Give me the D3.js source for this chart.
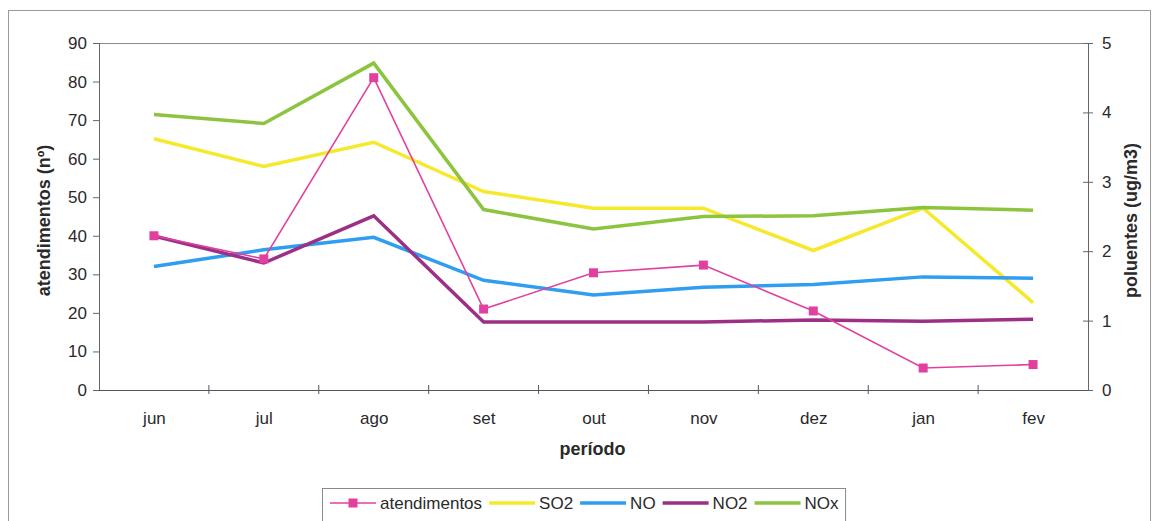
<!DOCTYPE html>
<html>
<head>
<meta charset="utf-8">
<script src="https://cdn.jsdelivr.net/npm/d3@7"></script>
<style>
  html, body { margin: 0; padding: 0; background: #fff; }
  svg { display: block; }
  text { font-family: "Liberation Sans", Arial, sans-serif; fill: #2a2a2a; }
</style>
</head>
<body>
<svg id="chart" width="1152" height="521"></svg>
<script>
// Monthly series: hospital visits (left axis) and pollutant levels (right axis)
const months = ["jun", "jul", "ago", "set", "out", "nov", "dez", "jan", "fev"];
const atendimentos = [40, 34, 81, 21, 30.4, 32.4, 20.5, 5.7, 6.6];
const so2 = [3.62, 3.22, 3.57, 2.86, 2.62, 2.62, 2.01, 2.62, 1.26];
const no = [1.78, 2.02, 2.20, 1.58, 1.37, 1.48, 1.52, 1.63, 1.61];
const no2 = [2.22, 1.83, 2.51, 0.98, 0.98, 0.98, 1.01, 0.99, 1.02];
const nox = [3.97, 3.84, 4.71, 2.60, 2.32, 2.50, 2.51, 2.63, 2.59];
const leftTicks = [0, 10, 20, 30, 40, 50, 60, 70, 80, 90];
const rightTicks = [0, 1, 2, 3, 4, 5];

const colors = {
  atendimentos: "#e2409e",
  SO2: "#f6e92c",
  NO: "#2f9ef0",
  NO2: "#9c2f86",
  NOx: "#8cc43f"
};

const svg = d3.select("#chart");
const plot = { left: 99, right: 1088, top: 43, bottom: 390 };

const x = d3.scalePoint().domain(months).range([plot.left, plot.right]).padding(0.5);
const step = x.step();
const yL = d3.scaleLinear().domain([0, 90]).range([plot.bottom, plot.top]);
const yR = d3.scaleLinear().domain([0, 5]).range([plot.bottom, plot.top]);

const fontFamily = '"Liberation Sans", Arial, sans-serif';

// outer chart frame
svg.append("rect")
  .attr("x", 8.5).attr("y", 10.5).attr("width", 1142).attr("height", 540)
  .attr("fill", "none").attr("stroke", "#9a9a9a").attr("stroke-width", 1);

// plot area top edge
svg.append("line")
  .attr("x1", plot.left).attr("x2", plot.right)
  .attr("y1", plot.top + 0.5).attr("y2", plot.top + 0.5)
  .attr("stroke", "#8a8a95").attr("stroke-width", 1.2);

// left axis
const axL = svg.append("g").attr("transform", `translate(${plot.left},0)`)
  .call(d3.axisLeft(yL).tickValues(leftTicks).tickSize(6).tickPadding(6));
axL.select(".domain").attr("stroke", "#666");
axL.selectAll(".tick line").attr("stroke", "#666");
axL.selectAll(".tick text").attr("font-size", 17).attr("fill", "#2a2a2a")
  .style("font-family", fontFamily);

// right axis, ticks crossing the axis line
const axR = svg.append("g").attr("transform", `translate(${plot.right},0)`)
  .call(d3.axisRight(yR).tickValues(rightTicks).tickFormat(d3.format("d"))
    .tickSize(5).tickPadding(9));
axR.select(".domain").attr("stroke", "#666");
axR.selectAll(".tick line").attr("x1", -5).attr("stroke", "#666");
axR.selectAll(".tick text").attr("font-size", 17).attr("fill", "#2a2a2a")
  .style("font-family", fontFamily);

// bottom axis with category boundary ticks
const axB = svg.append("g").attr("transform", `translate(0,${plot.bottom})`)
  .call(d3.axisBottom(x).tickSize(0).tickPadding(22));
axB.select(".domain").attr("stroke", "#556").attr("d", `M${plot.left},0.5H${plot.right}`);
axB.selectAll(".tick text").attr("font-size", 17).attr("fill", "#2a2a2a")
  .style("font-family", fontFamily);
axB.selectAll(".boundary")
  .data(d3.range(1, months.length))
  .join("line")
  .attr("class", "boundary")
  .attr("x1", i => plot.left + i * step).attr("x2", i => plot.left + i * step)
  .attr("y1", -5).attr("y2", 4)
  .attr("stroke", "#556");

// axis titles
svg.append("text")
  .attr("transform", `translate(50,${(plot.top + plot.bottom) / 2 + 4}) rotate(-90)`)
  .attr("text-anchor", "middle").attr("font-size", 18).attr("font-weight", "bold")
  .text("atendimentos (nº)");
svg.append("text")
  .attr("transform", `translate(1137,${(plot.top + plot.bottom) / 2 + 4}) rotate(-90)`)
  .attr("text-anchor", "middle").attr("font-size", 18).attr("font-weight", "bold")
  .text("poluentes (ug/m3)");
svg.append("text")
  .attr("x", x("out") - 1).attr("y", 455)
  .attr("text-anchor", "middle").attr("font-size", 18).attr("font-weight", "bold")
  .text("período");

// pollutant lines on right axis
const pollutants = [
  { name: "SO2", values: so2 },
  { name: "NO", values: no },
  { name: "NO2", values: no2 },
  { name: "NOx", values: nox }
];
const lineR = d3.line().x((d, i) => x(months[i])).y(d => yR(d));
svg.append("g").selectAll("path")
  .data(pollutants)
  .join("path")
  .attr("d", d => lineR(d.values))
  .attr("fill", "none")
  .attr("stroke", d => colors[d.name])
  .attr("stroke-width", 3.5)
  .attr("stroke-linejoin", "miter");

// visits line with square markers on left axis
const lineL = d3.line().x((d, i) => x(months[i])).y(d => yL(d));
svg.append("path")
  .attr("d", lineL(atendimentos))
  .attr("fill", "none")
  .attr("stroke", colors.atendimentos)
  .attr("stroke-width", 1.6);
svg.append("g").selectAll("rect")
  .data(atendimentos)
  .join("rect")
  .attr("x", (d, i) => x(months[i]) - 4.5)
  .attr("y", d => yL(d) - 4.5)
  .attr("width", 9).attr("height", 9)
  .attr("fill", colors.atendimentos);

// legend
const legendItems = ["atendimentos", "SO2", "NO", "NO2", "NOx"];
const lg = svg.append("g");
const lgBox = lg.append("rect")
  .attr("x", 322.5).attr("y", 488.5).attr("height", 60)
  .attr("fill", "#fff").attr("stroke", "#8a8a8a").attr("stroke-width", 1);
let cx = 330;
const ly = 503;
const symLen = 46;
legendItems.forEach(name => {
  const thin = name === "atendimentos";
  lg.append("line")
    .attr("x1", cx).attr("x2", cx + symLen).attr("y1", ly).attr("y2", ly)
    .attr("stroke", colors[name]).attr("stroke-width", thin ? 1.6 : 3.5);
  if (thin) {
    lg.append("rect").attr("x", cx + symLen / 2 - 4.5).attr("y", ly - 4.5)
      .attr("width", 9).attr("height", 9).attr("fill", colors[name]);
  }
  const t = lg.append("text")
    .attr("x", cx + symLen + 4).attr("y", ly).attr("dy", "0.36em")
    .attr("font-size", 17).text(name);
  cx += symLen + 4 + t.node().getComputedTextLength() + 7;
});
lgBox.attr("width", cx - 322.5);
</script>
</body>
</html>
